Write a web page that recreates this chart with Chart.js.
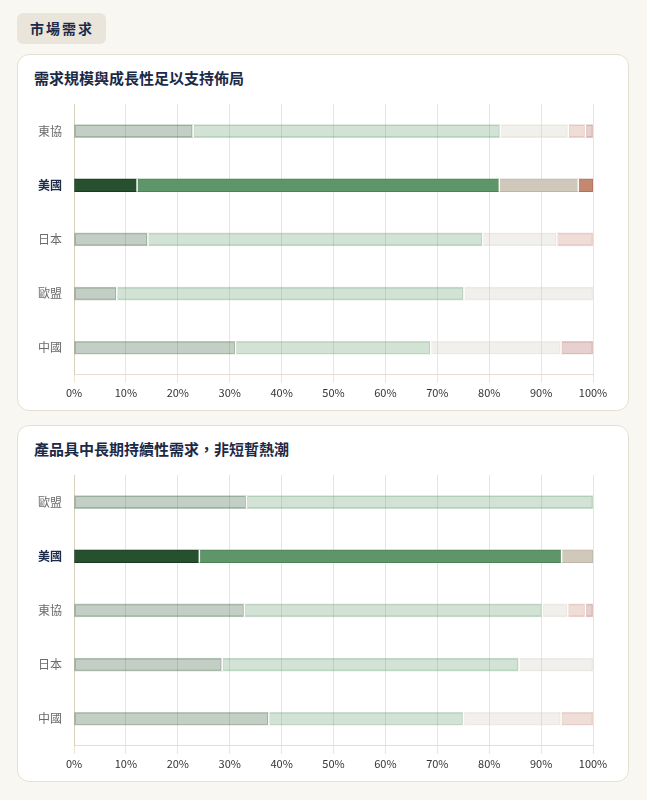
<!DOCTYPE html>
<html>
<head>
<meta charset="utf-8">
<script src="https://cdn.jsdelivr.net/npm/chart.js@4.4.1/dist/chart.umd.min.js"></script>
<style>
  body {
    margin: 0;
    background: #f9f7f2;
    font-family: "Noto Sans CJK TC", "Noto Sans", sans-serif;
    width: 647px;
  }
  .wrap { padding: 13px 18px 0 17px; }
  .tag {
    display: inline-block;
    background: #e9e5db;
    color: #1b2a47;
    font-weight: 700;
    font-size: 14px;
    letter-spacing: 2px;
    height: 31px;
    line-height: 31px;
    padding: 0 12px 0 13px;
    border-radius: 6px;
  }
  .card {
    background: #fff;
    border: 1px solid #e6e0d3;
    border-radius: 12px;
    margin-top: 10px;
    padding: 13px 16px 8px 8px;
  }
  .card + .card { margin-top: 14px; }
  .card h2 {
    margin: 0 0 0 8px;
    font-size: 15px;
    line-height: 20px;
    color: #1b2a47;
    font-weight: 700;
  }
  .box { position: relative; height: 314px; margin-top: 0; }
</style>
</head>
<body>
<div class="wrap">
  <div class="tag">市場需求</div>
  <div class="card">
    <h2>需求規模與成長性足以支持佈局</h2>
    <div class="box"><canvas id="chart1"></canvas></div>
  </div>
  <div class="card">
    <h2>產品具中長期持續性需求，非短暫熱潮</h2>
    <div class="box"><canvas id="chart2"></canvas></div>
  </div>
</div>
<script>
// chart 1 - 需求規模與成長性
const regions1 = ['東協', '美國', '日本', '歐盟', '中國'];
const segA1 = [22.9, 12.1, 14.2, 8.2, 31.1];
const segB1 = [59.2, 69.8, 64.5, 66.9, 37.6];
const segC1 = [13.1, 15.2, 14.3, 24.9, 25.1];
const segD1 = [3.3, 2.9, 7.0, 0, 0];
const segE1 = [1.5, 0, 0, 0, 6.2];

// chart 2 - 中長期持續性需求
const regions2 = ['歐盟', '美國', '東協', '日本', '中國'];
const segA2 = [33.2, 24.1, 32.8, 28.5, 37.5];
const segB2 = [66.8, 69.8, 57.4, 57.2, 37.5];
const segC2 = [0, 6.1, 4.9, 14.3, 18.8];
const segD2 = [0, 0, 3.4, 0, 6.2];
const segE2 = [0, 0, 1.5, 0, 0];

const xTicks = [0, 10, 20, 30, 40, 50, 60, 70, 80, 90, 100];
const highlight = '美國';

// base colours for each segment (rgb) and darker border
const palette = [
    { rgb: [39, 80, 47], edge: '#1b3a22' },
    { rgb: [94, 150, 105], edge: '#4a8356' },
    { rgb: [207, 200, 187], edge: '#bdb5a6' },
    { rgb: [196, 135, 111], edge: '#b0705a' },
    { rgb: [168, 90, 85], edge: '#944a45' }
];

function fillFor(p, labels) {
    return labels.map(l => l === highlight
        ? `rgb(${p.rgb.join(',')})`
        : `rgba(${p.rgb.join(',')},0.28)`);
}
function edgeFor(p, labels) {
    return labels.map(l => l === highlight ? p.edge : `rgba(${p.rgb.join(',')},0.32)`);
}

// thin white gap at the end of each segment
const gapPlugin = {
    id: 'gaps',
    afterDatasetsDraw(chart) {
        const ctx = chart.ctx;
        ctx.save();
        ctx.fillStyle = '#ffffff';
        chart.data.datasets.forEach((ds, i) => {
            const meta = chart.getDatasetMeta(i);
            meta.data.forEach((bar, j) => {
                if (!ds.data[j]) return;
                if (bar.x >= chart.chartArea.right - 1) return;
                ctx.fillRect(bar.x - 0.5, bar.y - bar.height / 2, 1.5, bar.height);
            });
        });
        ctx.restore();
    }
};

function makeChart(id, labels, series) {
    const ctx = document.getElementById(id).getContext('2d');
    return new Chart(ctx, {
        type: 'bar',
        data: {
            labels: labels,
            datasets: series.map((data, i) => ({
                data: data,
                backgroundColor: fillFor(palette[i], labels),
                borderColor: edgeFor(palette[i], labels),
                borderWidth: 1,
                borderSkipped: false,
                barThickness: 13
            }))
        },
        options: {
            indexAxis: 'y',
            responsive: true,
            maintainAspectRatio: false,
            animation: false,
            layout: { padding: { top: 16, right: 19 } },
            plugins: {
                legend: { display: false },
                tooltip: { enabled: false }
            },
            scales: {
                x: {
                    stacked: true,
                    min: 0,
                    max: 100,
                    afterBuildTicks: (scale) => {
                        scale.ticks = xTicks.map(v => ({ value: v }));
                    },
                    ticks: {
                        callback: v => v + '%',
                        color: '#333333',
                        font: { family: 'Noto Sans CJK TC', size: 11 },
                        padding: 3,
                        maxRotation: 0
                    },
                    grid: { color: '#efe5cf', tickLength: 8 },
                    border: { color: '#e6dfd0' }
                },
                y: {
                    stacked: true,
                    afterFit: (scale) => { scale.width = 48; },
                    ticks: {
                        padding: 4,
                        color: (c) => labels[c.index] === highlight ? '#1b2a47' : '#6b6b6b',
                        font: (c) => ({
                            family: 'Noto Sans CJK TC',
                            size: 12,
                            weight: labels[c.index] === highlight ? '700' : '400'
                        })
                    },
                    grid: { display: false },
                    border: { color: '#d9cfbd' }
                }
            }
        },
        plugins: [gapPlugin]
    });
}

makeChart('chart1', regions1, [segA1, segB1, segC1, segD1, segE1]);
makeChart('chart2', regions2, [segA2, segB2, segC2, segD2, segE2]);
</script>
</body>
</html>
